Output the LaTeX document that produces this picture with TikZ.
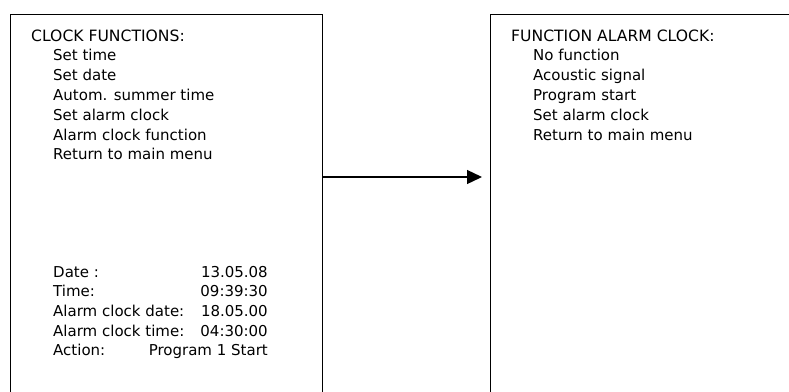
\documentclass[tikz,border=0pt]{standalone}
\usepackage{fontspec}
\setmainfont{DejaVu Sans}
\usetikzlibrary{arrows.meta}
\begin{document}
\begin{tikzpicture}[x=1pt,y=-1pt,
  panel/.style={draw=black,line width=1.3pt,rectangle,inner sep=0pt,anchor=north west},
  txt/.style={anchor=base west,inner sep=0pt,font=\fontsize{15}{19}\selectfont},
  head/.style={anchor=base west,inner sep=0pt,font=\fontsize{15.6}{19}\selectfont},
  val/.style={anchor=base east,inner sep=0pt,font=\fontsize{15}{19}\selectfont},
  conn/.style={line width=1.3pt,-{Triangle[length=15pt,width=14pt]}}]
\useasboundingbox (0,0) rectangle (789,391);
\clip (0,0) rectangle (789,391);
\node[panel,minimum width=312pt,minimum height=420pt] (box1) at (10,14) {};
\node[panel,minimum width=330pt,minimum height=420pt] (box2) at (490,14) {};
\coordinate (ay) at (0,177);
\draw[conn] (box1.north east |- ay) -- ([xshift=-8pt]box2.north west |- ay);
% left menu
\node[head] (h1) at (31,41) {CLOCK FUNCTIONS:};
\node[txt] (l1) at (53,60.8) {Set time};
\node[txt] (l2) at (53,80.6) {Set date};
\node[txt] (l3) at (53,100.4) {Autom. summer time};
\node[txt] (l4) at (53,120.2) {Set alarm clock};
\node[txt] (l5) at (53,140) {Alarm clock function};
\node[txt] (l6) at (53,159.8) {Return to main menu};
% status
\node[txt] (s1) at (53,277) {Date :};
\node[txt] (s2) at (53,296.7) {Time:};
\node[txt] (s3) at (53,316.4) {Alarm clock date:};
\node[txt] (s4) at (53,336.1) {Alarm clock time:};
\node[txt] (s5) at (53,355.8) {Action:};
\node[val] (v1) at (268,277) {13.05.08};
\node[val] (v2) at (268,296.7) {09:39:30};
\node[val] (v3) at (268,316.4) {18.05.00};
\node[val] (v4) at (268,336.1) {04:30:00};
\node[val] (v5) at (268,355.8) {Program 1 Start};
% right menu
\node[head] (h2) at (511,41) {FUNCTION ALARM CLOCK:};
\node[txt] (r1) at (533,60.8) {No function};
\node[txt] (r2) at (533,80.6) {Acoustic signal};
\node[txt] (r3) at (533,100.4) {Program start};
\node[txt] (r4) at (533,120.2) {Set alarm clock};
\node[txt] (r5) at (533,140) {Return to main menu};
\end{tikzpicture}
\end{document}
